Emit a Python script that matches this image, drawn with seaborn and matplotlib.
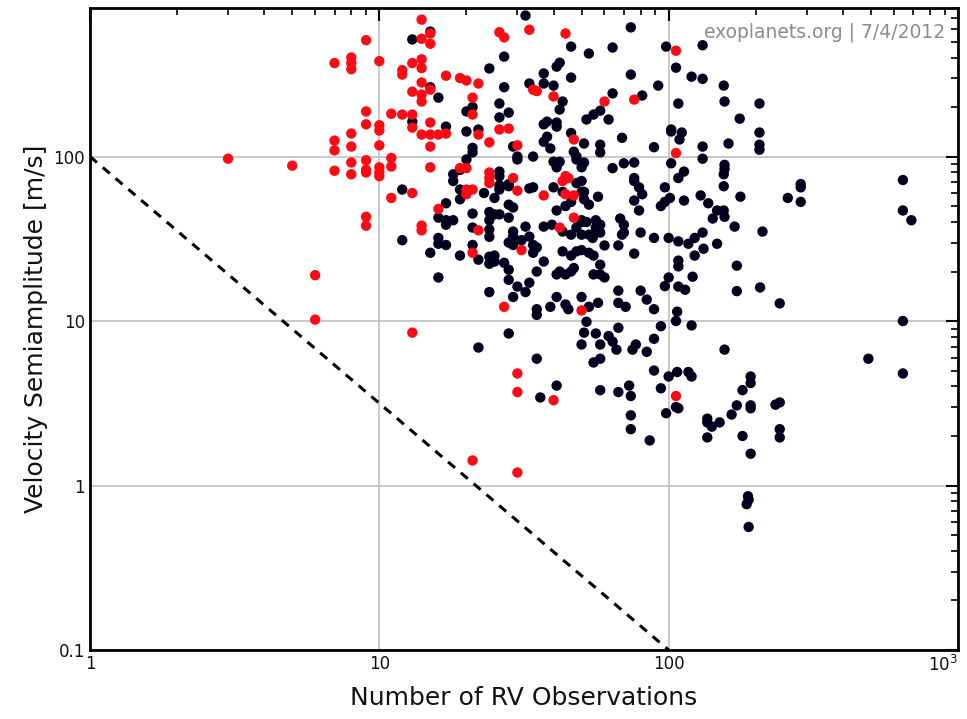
import pandas as pd
import seaborn as sns
import matplotlib.pyplot as plt
from matplotlib.ticker import LogLocator, NullFormatter

# planets detected by other methods first / transit hosts (red)
red_x = [3, 5, 6, 6, 9, 7, 8, 8, 8, 10, 12, 12, 9, 11, 12, 9, 10, 10, 8, 7, 7, 8, 10, 9, 11, 11,
         7, 8, 8, 9, 9, 10, 10, 10, 9, 9, 11, 13,
         14, 14, 15, 15, 26, 27, 33, 44, 13, 14, 14, 17, 19, 20, 22, 13, 14, 14, 14, 15, 21, 21,
         13, 13, 15, 14, 15, 16, 17, 15, 22, 26, 28, 24, 30, 15, 19, 20, 24, 40, 34, 35, 47, 44,
         106, 60, 76, 106, 106, 30, 30, 40, 21, 30,
         13, 16, 14, 14, 20, 21, 20, 24, 24, 29, 30, 22, 21, 31, 37, 42, 44, 47, 43, 45, 47, 27, 50]
red_y = [97, 88, 19, 10.2, 510, 370, 400, 370, 340, 380, 335, 315, 188, 182, 180, 157, 155, 144, 138, 125, 109, 115, 117, 95, 98, 87,
         82, 92, 78, 83, 80, 86, 80, 76, 43, 38, 56, 8.5,
         680, 520, 560, 485, 570, 530, 590, 560, 370, 390, 345, 310, 300, 290, 278, 248, 282, 238, 216, 255, 228, 180,
         180, 150, 161, 136, 136, 136, 138, 115, 136, 146, 148, 122, 117, 86, 85, 85, 80, 232, 255, 250, 127, 76,
         440, 216, 222, 105, 3.5, 4.8, 3.7, 3.3, 1.42, 1.2,
         60, 48, 38, 35.6, 63, 63, 59, 74, 69, 74, 62, 35.6, 26, 27, 58, 37, 59, 58, 71, 74, 42.5, 12.2, 11.6]

# all other RV planets (dark)
black_x = [13, 15, 15, 16, 13, 17, 20, 22, 20, 21, 24, 27, 32, 27, 26, 26, 28, 33, 37, 37, 40, 41, 42, 46, 46, 43, 42,
           38, 37, 41, 41, 38, 37, 39, 46, 47, 48, 52, 29, 30, 30, 34, 40, 42, 41, 48, 50, 21, 21, 20, 18, 19, 26, 26,
           74, 53, 64, 98, 131, 106, 74, 120, 131, 155, 92, 64, 81, 108, 156, 206, 58, 55, 62, 176, 102, 102, 111, 109,
           69, 51, 58, 58, 89, 131, 161, 206, 206, 206, 51, 64, 70, 76, 102, 131, 156, 156, 113, 108, 76,
           645, 286, 286, 258, 286, 645, 690, 211, 207, 242, 645, 490, 645, 234, 242, 242, 242,
           58, 64, 66, 75, 77, 84, 89, 62, 156, 55, 58, 89, 100, 107, 117, 120, 192, 192, 180, 58, 67, 73, 74, 94,
           106, 108, 98, 74, 74, 86, 172, 165, 150, 136, 136, 141, 136, 180, 192, 192, 192, 188, 189, 186, 189,
           22, 35, 41, 36, 50,
           12, 12, 18, 19, 19, 17, 16, 17, 18, 17, 16, 16, 17, 15, 19, 16, 21, 21, 21, 22, 23, 25, 26, 26, 28, 28,
           24, 24, 24, 24, 25, 26, 28, 28, 29, 24, 24, 25, 25, 27, 28, 28, 30, 29, 32, 33, 35, 37, 24, 28,
           29, 29, 28, 29, 31, 32, 33, 34, 35, 34, 35, 35, 39, 41, 44, 45, 41, 42, 44, 46, 47, 43, 46, 48, 50,
           37, 39.5, 43, 46, 48, 50, 41, 44, 46, 40, 43, 48, 50, 34, 33, 51,
           50, 51, 51, 53, 57, 76, 79, 81, 76, 79, 97, 94, 97, 101, 113, 129, 137, 147, 155, 142, 156, 169, 177,
           155, 155, 50, 52, 56, 56, 58, 58, 55, 53, 50, 54.6, 68, 70, 70, 69, 80, 89, 100, 108, 117, 123, 131,
           60, 67, 53, 55, 76, 123, 132, 147, 108, 108, 58, 55, 58, 60, 100, 97, 108, 114, 121, 172, 172,
           67, 67, 71, 80, 84, 89, 50, 53, 57, 52, 56, 67, 107, 106, 94, 120]
black_y = [515, 575, 264, 228, 163, 152, 142, 146, 188, 200, 343, 405, 720, 264, 210, 173, 185, 278, 320, 278, 270, 352, 372, 466, 302, 216, 193,
           163, 157, 161, 152, 132, 123, 112, 139, 107, 100, 168, 115, 100, 96, 100, 93, 93, 86, 96, 86, 113, 106, 96, 78, 83, 81, 76,
           610, 423, 460, 466, 475, 347, 315, 306, 297, 270, 270, 242, 235, 210, 216, 210, 190, 180, 168, 170, 146, 142, 140, 127,
           130, 120, 118, 106, 114, 115, 120, 140, 118, 110, 92, 85, 91, 92, 91, 97, 89, 84, 81, 74, 74,
           72, 68, 65, 56, 53, 47, 41, 35, 16, 12.8, 10, 5.9, 4.8, 3.1, 3.2, 2.2, 1.96,
           7.2, 7.5, 6.7, 6.7, 7.2, 6.5, 7.8, 8.1, 6.7, 5.6, 5.9, 5.0, 4.6, 4.9, 4.9, 4.6, 4.6, 4.2, 3.8, 3.8, 3.7, 4.05, 3.5, 3.9,
           3.0, 2.95, 2.75, 2.67, 2.2, 1.88, 3.07, 2.7, 2.42, 2.55, 2.42, 2.28, 1.96, 2.0, 3.07, 2.95, 1.56, 0.86, 0.82, 0.77, 0.56,
           6.9, 5.9, 4.05, 3.43, 7.2,
           63, 31, 71, 63, 55, 52, 42.5, 41, 41, 38.5, 32, 29.5, 29, 26, 25, 18.4, 45, 37, 29, 23.6, 60, 56, 67, 63, 68, 66,
           46, 41, 36, 32.5, 44.5, 44.5, 51, 42.5, 49, 24.6, 22.3, 25, 23, 22.6, 20.5, 17.8, 16.2, 14, 15, 17.1, 20, 23, 15, 8.4,
           35, 32.6, 30, 29, 31, 37.5, 32.6, 29, 28, 26, 11.8, 10.9, 12.2, 14, 12.6, 11.8, 19.2, 20, 19.2, 20, 21, 26.5, 25, 26.5, 27,
           37.5, 38.5, 35, 33.5, 37, 40, 47, 50, 53, 65, 61, 69, 61, 65, 64, 8.5,
           71, 61, 55, 51, 57, 71, 65, 59, 54, 47, 65, 50, 53, 56, 54, 58, 52, 47, 47, 42, 43, 37.5, 57,
           66, 78, 41, 40, 41, 37, 38.5, 34.5, 33.5, 33.5, 33.5, 32, 42, 38.5, 34.5, 33.5, 34.5, 32, 32, 30.5, 29.5, 32, 34.5,
           28.8, 28.8, 26, 25, 25.7, 25, 27.5, 29.5, 23.3, 21.5, 22, 19.2, 19.2, 18.4, 18.4, 16.3, 16.2, 15.5, 18.6, 21.7, 15.2,
           15.3, 12.9, 12.2, 15.3, 13.5, 11.8, 14, 12.2, 12.9, 9.9, 8.4, 9.1, 11.4, 10, 9.3, 9.4]

# detection limit line
limit_x = [1, 100]
limit_y = [100, 0.1]

df = pd.concat([
    pd.DataFrame({"n_obs": black_x, "k": black_y, "group": "other"}),
    pd.DataFrame({"n_obs": red_x, "k": red_y, "group": "red"}),
])

sns.set_style("white")
plt.rcParams["font.family"] = ["DejaVu Sans"]

fig = plt.figure(figsize=(9.67, 7.19), dpi=100)
ax = fig.add_axes([90 / 967, 69 / 719, 868 / 967, 642 / 719])

ax.set_xscale("log")
ax.set_yscale("log")
ax.set_xlim(1, 1000)
ax.set_ylim(0.1, 800)
ax.grid(True, which="major", color="#c0c0c0", linewidth=1.2, zorder=0)

sns.scatterplot(data=df, x="n_obs", y="k", hue="group",
                palette={"other": "#00001e", "red": "#ff0a14"},
                s=56, edgecolor="none", legend=False, ax=ax, zorder=3)

ax.plot(limit_x, limit_y, color="black", linestyle=(0, (3, 2.5)), linewidth=2.2, zorder=2)

ax.set_xticks([1, 10, 100, 1000])
ax.set_xticklabels(["1", "10", "100", r"$10^3$"])
ax.get_xticklabels()[-1].set_horizontalalignment("right")
ax.set_yticks([0.1, 1, 10, 100])
ax.set_yticklabels(["0.1", "1", "10", "100"])
ax.xaxis.set_minor_locator(LogLocator(base=10, subs=range(2, 10)))
ax.yaxis.set_minor_locator(LogLocator(base=10, subs=range(2, 10)))
ax.xaxis.set_minor_formatter(NullFormatter())
ax.yaxis.set_minor_formatter(NullFormatter())
ax.tick_params(which="both", direction="in", top=True, right=True, color="black",
               labelsize=12, labelcolor="#111111")
ax.tick_params(which="major", length=9, width=1.5)
ax.tick_params(which="minor", length=5, width=1.2)

for sp in ax.spines.values():
    sp.set_linewidth(2)
    sp.set_color("black")

ax.set_xlabel("Number of RV Observations", fontsize=18, labelpad=8, color="#111111")
ax.set_ylabel("Velocity Semiamplitude [m/s]", fontsize=18, labelpad=4, color="#111111")
ax.text(0.985, 0.962, "exoplanets.org | 7/4/2012", transform=ax.transAxes,
        ha="right", va="center", fontsize=13.5, color="#8c8c8c")

fig.savefig("out.png", dpi=100)
